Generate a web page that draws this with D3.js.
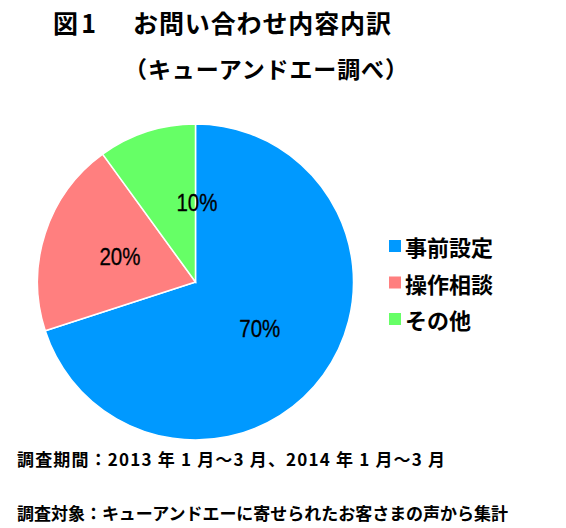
<!DOCTYPE html>
<html><head><meta charset="utf-8">
<script src="https://cdn.jsdelivr.net/npm/d3@7"></script>
<style>
html,body{margin:0;padding:0;background:#fff;}
svg{display:block;}
</style>
</head><body>
<svg id="chart" width="566" height="528"></svg>
<script>
const categories = ["事前設定", "操作相談", "その他"];
const values = [70, 20, 10];
const colors = ["#0099FF", "#FF7F7F", "#66FF66"];
const labelNudgeDeg = [0, 0, 19];
const titleLine1a = "図 1";
const titleLine1b = "お問い合わせ内容内訳";
const titleLine2 = "（キューアンドエー調べ）";
const footer1 = "調査期間：2013 年 1 月～3 月、2014 年 1 月～3 月";
const footer2 = "調査対象：キューアンドエーに寄せられたお客さまの声から集計";

const svg = d3.select("#chart");
const cjk = "'Noto Sans CJK JP', 'Noto Sans CJK SC', sans-serif";

function txt(x, y, size, s, len) {
  const t = svg.append("text").attr("x", x).attr("y", y).attr("font-family", cjk)
    .attr("font-weight", "bold").attr("font-size", size).attr("fill", "#000").text(s);
  if (len) t.attr("textLength", len).attr("lengthAdjust", "spacing");
  return t;
}

// Title
txt(53, 33, 25, titleLine1a, 43);
txt(133, 33, 25, titleLine1b, 258);
txt(124, 78, 23, titleLine2, 284);

// Pie
const cx = 195.5, cy = 282, r = 158;
const pie = d3.pie().sort(null).value(d => d)(values);
const arc = d3.arc().innerRadius(0).outerRadius(r);
const g = svg.append("g").attr("transform", `translate(${cx},${cy})`);
g.selectAll("path").data(pie).join("path")
  .attr("d", arc)
  .attr("fill", (d, i) => colors[i])
  .attr("stroke", "#fff").attr("stroke-width", 1.5);

const lr = r * 0.503;
g.selectAll("text.lbl").data(pie).join("text").attr("class", "lbl")
  .attr("transform", (d, i) => {
    const a = (d.startAngle + d.endAngle) / 2 + labelNudgeDeg[i] * Math.PI / 180;
    return `translate(${lr * Math.sin(a)},${-lr * Math.cos(a)})`;
  })
  .attr("text-anchor", "middle").attr("dominant-baseline", "central")
  .attr("font-family", "'Liberation Sans', Arial, sans-serif")
  .attr("font-size", 23).attr("fill", "#000")
  .attr("stroke", "#000").attr("stroke-width", 0.3)
  .attr("textLength", 41).attr("lengthAdjust", "spacingAndGlyphs")
  .text(d => d.data + "%");

// Legend
const legY = d3.scalePoint().domain(categories).range([246, 319]);
const leg = svg.append("g");
const items = leg.selectAll("g").data(categories).join("g")
  .attr("transform", d => `translate(389,${legY(d)})`);
items.append("rect").attr("x", 0).attr("y", -6).attr("width", 12).attr("height", 12)
  .attr("fill", (d, i) => colors[i]);
items.append("text").attr("x", 16).attr("y", 0).attr("dominant-baseline", "central")
  .attr("font-family", cjk).attr("font-weight", "bold").attr("font-size", 22)
  .attr("fill", "#000").text(d => d);

// Footer
txt(17, 466, 17, footer1, 428);
txt(17, 520, 17, footer2, 491);
</script>
</body></html>
